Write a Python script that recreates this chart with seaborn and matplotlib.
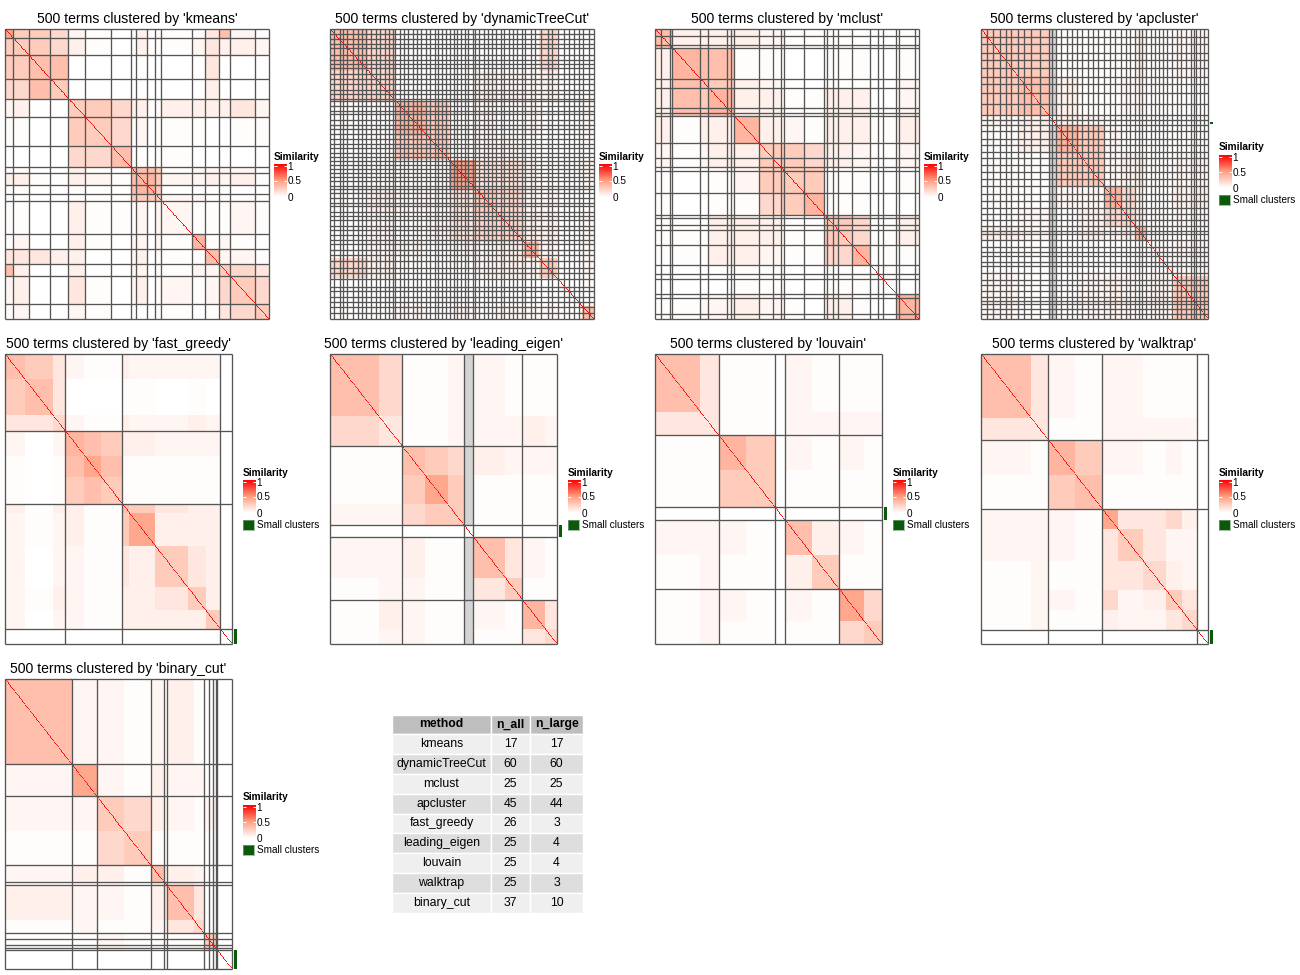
import numpy as np
import pandas as pd
import matplotlib
matplotlib.use("Agg")
import matplotlib.pyplot as plt
from matplotlib.colors import LinearSegmentedColormap
import seaborn as sns

# cluster sizes, block sizes + upper triangle of
# mean similarity per block (digit = index into level_values)
level_values = [0, 0.015, 0.05, 0.08, 0.13, 0.2, 0.27, 0.33, 0.38, 0.45]

kmeans_sizes = [15, 30, 41, 34, 32, 49, 37, 10, 21, 16, 11, 58, 25, 27, 20, 48, 26]
kmeans_blocks = kmeans_sizes
kmeans_levels = ["96652101301114721", "6653101311124332", "770000100004000",
                 "60000100003000", "6653311333342", "651201110011", "70101100000",
                 "7776122221", "886223231", "86000000", "6221111", "211121",
                 "81210", "7221", "654", "65", "6"]

dynamic_sizes = [8, 10, 7, 8, 11, 9, 8, 7, 10, 9, 8, 10, 7, 8, 4,
                 9, 8, 6, 10, 8, 7, 9, 8, 9, 7, 8, 7,
                 8, 6, 7, 8, 6, 7, 8, 5,
                 7, 10, 8, 6, 9, 8, 7, 9, 8, 8, 9, 6,
                 11, 8, 11, 12, 9, 10, 13, 8, 10, 9, 9, 10, 10]
dynamic_blocks = [72, 52, 60, 41, 50, 40, 52, 28, 35, 48, 22]
dynamic_levels = ["75100101501", "5111322301", "861212102", "61221101", "9442102",
                  "652201", "53302", "8202", "602", "01", "7"]

mclust_sizes = [12, 16, 5, 53, 15, 36, 7, 6, 47, 26, 15, 7, 37, 38, 5, 13, 8, 27, 34, 15, 9, 26, 6, 29, 8]
mclust_blocks = [33, 53, 15, 49, 47, 41, 44, 38, 53, 34, 50, 43]
mclust_levels = ["733332111101", "87711001101", "7632101102", "833113302", "83213313",
                 "6653212", "661101", "81100", "6513", "811", "10", "8"]

apcluster_sizes = [14, 12, 16, 12, 13, 15, 13, 16, 18, 20, 8, 9,
                   10, 13, 11, 12, 10, 13, 11, 12, 12,
                   14, 12, 12, 11, 10, 11,
                   8, 6, 10, 11, 9, 7, 10, 8, 12, 11, 9, 11, 10, 7, 5, 9, 8, 9]
apcluster_blocks = [85, 64, 17, 50, 54, 40, 30, 26, 60, 74]
apcluster_levels = ["6621111312", "733112211", "13211101", "8621101", "623312",
                    "85203", "5312", "711", "12", "6"]

fast_greedy_sizes = [132, 126, 216, 26]
fast_greedy_blocks = [43, 62, 27, 43, 37, 46, 16, 57, 71, 40, 32, 26]
fast_greedy_levels = ["764211322220", "74000110100", "5211322320", "876332220", "97111110",
                      "6111110", "764330", "93330", "6430", "630", "60", "0"]

leading_eigen_sizes = [159, 136, 21, 108, 76]
leading_eigen_blocks = [107, 52, 50, 50, 36, 21, 70, 38, 50, 26]
leading_eigen_levels = ["7511202111", "411202232", "76503222", "9601111", "601111",
                        "00000", "7421", "611", "84", "5"]

louvain_sizes = [140, 124, 22, 119, 95]
louvain_blocks = [100, 40, 60, 64, 22, 60, 59, 55, 40]
louvain_levels = ["741102111", "41102222", "8602121", "601111", "00000", "7321", "611", "95", "6"]

walktrap_sizes = [148, 119, 208, 25]
walktrap_blocks = [110, 38, 60, 59, 35, 55, 50, 35, 33, 25]
walktrap_levels = ["7421221110", "411222220", "86221210", "7111110", "944530",
                   "64220", "5320", "640", "50", "0"]

binary_cut_sizes = [147, 55, 119, 29, 6, 82, 11, 9, 6, 4, 32]
binary_cut_blocks = [147, 55, 60, 59, 29, 6, 60, 22, 30, 32]
binary_cut_levels = ["7221213110", "921322210", "65322120", "6111110", "733210",
                     "64210", "7410", "510", "60", "0"]

methods = ["kmeans", "dynamicTreeCut", "mclust", "apcluster", "fast_greedy",
           "leading_eigen", "louvain", "walktrap", "binary_cut"]
n_all = [17, 60, 25, 45, 26, 25, 25, 25, 37]
n_large = [17, 60, 25, 44, 3, 4, 4, 3, 10]

# first term and term count of the small clusters
small_terms = [None, None, None, (160, 3), (474, 26), (295, 21), (264, 22), (475, 25), (468, 32)]
# columns that show as a solid grey band (tightly packed separators)
grey_columns = [None, None, None, (149, 17), None, (295, 21), None, (475, 3), None]

panels = [
    (kmeans_sizes, kmeans_blocks, kmeans_levels, 5, 29, 264),
    (dynamic_sizes, dynamic_blocks, dynamic_levels, 330, 29, 264),
    (mclust_sizes, mclust_blocks, mclust_levels, 655, 29, 264),
    (apcluster_sizes, apcluster_blocks, apcluster_levels, 981, 29, 227),
    (fast_greedy_sizes, fast_greedy_blocks, fast_greedy_levels, 5, 354, 227),
    (leading_eigen_sizes, leading_eigen_blocks, leading_eigen_levels, 330, 354, 227),
    (louvain_sizes, louvain_blocks, louvain_levels, 655, 354, 227),
    (walktrap_sizes, walktrap_blocks, walktrap_levels, 981, 354, 227),
    (binary_cut_sizes, binary_cut_blocks, binary_cut_levels, 5, 679, 227),
]

W, H = 1300, 975
sns.set_theme(style="white")
plt.rcParams["font.family"] = ["Liberation Sans", "DejaVu Sans"]
sim_cmap = LinearSegmentedColormap.from_list("sim", ["#ffffff", "#ff9e81", "#ff0000"])


def px_axes(fig, x0, y0, w, h):
    return fig.add_axes([x0 / W, 1 - (y0 + h) / H, w / W, h / H])


def build_matrix(blocks, levels):
    grid = np.zeros((len(blocks), len(blocks)))
    for i, row in enumerate(levels):
        for j, ch in enumerate(row):
            grid[i, i + j] = grid[i + j, i] = level_values[int(ch)]
    mat = np.repeat(np.repeat(grid, blocks, axis=0), blocks, axis=1)
    idx = np.arange(500)
    # one term is about half a pixel wide, so the diagonal needs two terms to stay unbroken
    mat[idx, idx] = 1
    mat[idx[:-1], idx[1:]] = 0.9
    return mat


fig = plt.figure(figsize=(W / 100, H / 100), dpi=100, facecolor="white")

for i, (sizes, blocks, levels, x0, y0, w) in enumerate(panels):
    small = small_terms[i]
    ax = px_axes(fig, x0, y0, w, 290)
    if small is None:
        leg_x, leg_y = x0 + w + 5, y0 + 128
    else:
        leg_x, leg_y = x0 + w + 11, y0 + 119
    cax = px_axes(fig, leg_x, leg_y + 7, 13, 33)
    sns.heatmap(build_matrix(blocks, levels), ax=ax, cbar_ax=cax, vmin=0, vmax=1, cmap=sim_cmap,
                xticklabels=False, yticklabels=False, cbar_kws={"ticks": [0, 0.5, 0.94]})
    if grey_columns[i] is not None:
        g0, gn = grey_columns[i]
        ax.fill_betweenx([0, g0], g0, g0 + gn, color="#d4d4d4", lw=0, zorder=2)
        ax.fill_betweenx([g0 + gn, 500], g0, g0 + gn, color="#d4d4d4", lw=0, zorder=2)
    cuts = np.concatenate([[0], np.cumsum(sizes)])
    ax.hlines(cuts, 0, 500, color="#555555", lw=0.95, clip_on=False, zorder=3)
    ax.vlines(cuts, 0, 500, color="#555555", lw=0.95, clip_on=False, zorder=3)
    ax.set_title(f"500 terms clustered by '{methods[i]}'", fontsize=10.1, color="black", pad=4.5)

    cax.set_yticklabels(["0", "0.5", "1"])
    cax.tick_params(length=0, pad=0.5, labelsize=7.2, labelcolor="black")
    cax.hlines([0.5, 0.94], 0, 0.2, color="white", lw=0.7)
    cax.hlines([0.5, 0.94], 0.8, 1, color="white", lw=0.7)
    for s in cax.spines.values():
        s.set_visible(False)
    fig.text(leg_x / W, 1 - (leg_y - 0.5) / H, "Similarity", fontsize=7.3, fontweight="bold",
             va="center", ha="left", color="black")

    if small is not None:
        bar = px_axes(fig, x0 + w + 2, y0, 3, 290)
        bar.fill_between([0, 1], small[0], small[0] + small[1], color="#0b5a0b", lw=0)
        bar.set_xlim(0, 1)
        bar.set_ylim(500, 0)
        bar.axis("off")
        sw = px_axes(fig, leg_x, leg_y + 47, 11, 10)
        sw.set_facecolor("#0b5a0b")
        sw.set_xticks([])
        sw.set_yticks([])
        for s in sw.spines.values():
            s.set_edgecolor("#7fa67f")
            s.set_linewidth(0.5)
        fig.text((leg_x + 14) / W, 1 - (leg_y + 52) / H, "Small clusters", fontsize=7.2,
                 va="center", ha="left", color="black")

# summary table
summary = pd.DataFrame({"method": methods, "n_all": n_all, "n_large": n_large})
tax = px_axes(fig, 392, 714.5, 191, 198)
tax.axis("off")
cell_colors = [["#efefef" if r % 2 == 0 else "#dedede"] * 3 for r in range(len(summary))]
tbl = tax.table(cellText=summary.astype(str).values, colLabels=summary.columns.tolist(),
                cellColours=cell_colors, colColours=["#bebebe"] * 3, cellLoc="center",
                colWidths=[99 / 191, 39 / 191, 53 / 191], bbox=[0, 0, 1, 1])
tbl.auto_set_font_size(False)
tbl.set_fontsize(8.8)
for (r, c), cell in tbl.get_celld().items():
    cell.set_edgecolor("white")
    cell.set_linewidth(1.0)
    cell.set_text_props(color="black", fontweight="bold" if r == 0 else "normal")

fig.savefig("out.png", dpi=100)
